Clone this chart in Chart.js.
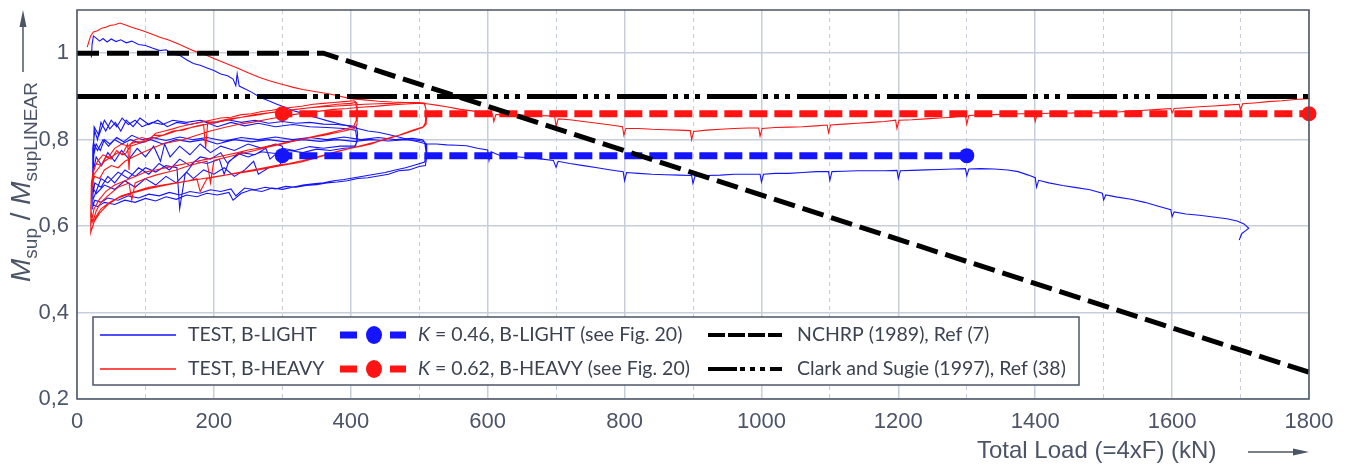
<!DOCTYPE html>
<html>
<head>
<meta charset="utf-8">
<script src="https://cdn.jsdelivr.net/npm/chart.js@4.4.1/dist/chart.umd.min.js"></script>
<style>
  html, body { margin: 0; padding: 0; background: #fff; }
  #wrap { width: 1348px; height: 466px; }
</style>
</head>
<body>
<div id="wrap"><canvas id="chart" width="1348" height="466"></canvas></div>
<script>
// axis ticks
const xTickValues = [0, 100, 200, 300, 400, 500, 600, 700, 800, 900, 1000, 1100, 1200, 1300, 1400, 1500, 1600, 1700, 1800];
const yTickValues = [0.2, 0.4, 0.6, 0.8, 1.0];

// design rules: [load kN, ratio]
const nchrp = [[0, 1.0], [360, 1.0], [1800, 0.262]];
const clarkSugie = [[0, 0.9], [1800, 0.9]];
const kLight = [[300, 0.763], [1300, 0.763]];
const kHeavy = [[300, 0.86], [1800, 0.86]];

// TEST, B-LIGHT: cyclic part
const lightCycles = [
  [22,0.64],[23,0.78],[26,0.82],[30,0.80],[35,0.84],[42,0.82],[50,0.845],[58,0.83],[66,0.85],[75,0.835],[85,0.845],[95,0.83],[110,0.84],[125,0.835],[140,0.845],[160,0.84],[180,0.845],[200,0.838],[220,0.846],[240,0.84],[260,0.845],[280,0.838],[300,0.842],[320,0.838],[340,0.84],[360,0.836],[380,0.835],[400,0.832],[408,0.83],[410,0.815],[409,0.795],[405,0.782],
  [390,0.78],[370,0.775],[350,0.778],[330,0.77],[310,0.775],[290,0.768],[270,0.772],[250,0.76],[235,0.768],[220,0.745],[210,0.77],[195,0.755],[180,0.76],[165,0.74],[150,0.755],[135,0.73],[120,0.745],[105,0.72],[90,0.735],[75,0.71],[60,0.725],[45,0.70],[35,0.71],[28,0.68],[23,0.66],
  [23,0.70],[25,0.83],[32,0.81],[40,0.845],[48,0.825],[56,0.84],[64,0.82],[72,0.845],[82,0.83],[92,0.85],[105,0.835],[118,0.845],[132,0.83],[146,0.84],[165,0.835],[185,0.842],[205,0.83],[225,0.84],[245,0.832],[265,0.838],[290,0.83],[315,0.835],[340,0.83],[365,0.828],[390,0.826],[407,0.822],[409,0.80],[407,0.785],
  [385,0.785],[360,0.78],[340,0.784],[318,0.775],[300,0.78],[282,0.755],[276,0.78],[260,0.765],[240,0.77],[222,0.75],[215,0.72],[208,0.755],[190,0.745],[172,0.75],[158,0.72],[150,0.64],[146,0.735],[130,0.74],[115,0.725],[100,0.735],[85,0.715],[70,0.73],[55,0.70],[45,0.715],[35,0.69],[26,0.70],[23,0.67],
  [23,0.65],[24,0.76],[28,0.79],[34,0.775],[40,0.80],[48,0.79],[58,0.805],[68,0.795],[80,0.81],[95,0.80],[110,0.805],[130,0.798],[150,0.806],[170,0.80],[190,0.805],[215,0.797],[240,0.805],[265,0.80],[290,0.806],[315,0.80],[340,0.805],[365,0.80],[390,0.806],[415,0.80],[440,0.805],[465,0.80],[490,0.803],[505,0.80],[510,0.79],[511,0.76],[509,0.74],
  [500,0.738],[485,0.73],[470,0.728],[455,0.72],[440,0.716],[425,0.712],[410,0.71],[395,0.705],[380,0.702],[365,0.70],[350,0.696],[335,0.694],[320,0.69],[305,0.692],[290,0.686],[275,0.69],[260,0.684],[245,0.688],[232,0.67],[225,0.686],[210,0.68],[195,0.684],[180,0.676],[165,0.68],[150,0.672],[135,0.678],[120,0.67],[105,0.674],[90,0.665],[75,0.67],[60,0.66],[45,0.665],[35,0.655],[26,0.66],[23,0.645],
  [23,0.68],[25,0.79],[30,0.775],[38,0.80],[46,0.785],[55,0.80],[66,0.79],[78,0.80],[92,0.792],[108,0.80],[125,0.79],[145,0.80],[165,0.795],[185,0.80],[205,0.79],[230,0.80],[255,0.795],[280,0.80],[305,0.795],[330,0.80],[355,0.796],[380,0.80],[405,0.796],[430,0.80],[455,0.797],[480,0.80],[500,0.798],[508,0.795],[510,0.77],[508,0.748],
  [495,0.742],[480,0.735],[465,0.73],[450,0.724],[435,0.72],[420,0.716],[405,0.712],[390,0.708],[375,0.705],[360,0.70],[345,0.698],[330,0.695],[315,0.69],[300,0.685],[285,0.688],[270,0.68],[255,0.684],[240,0.676],[228,0.66],[222,0.678],[205,0.672],[190,0.676],[175,0.668],[160,0.672],[145,0.662],[130,0.668],[115,0.658],[100,0.664],[85,0.655],[70,0.66],[55,0.65],[40,0.655],[30,0.645],[23,0.65],
  [23,0.72],[28,0.76],[36,0.74],[45,0.77],[55,0.75],[65,0.775],[76,0.755],[88,0.78],[100,0.76],[112,0.785],[122,0.75],[128,0.79],[136,0.76],[150,0.785],[165,0.765],[180,0.79],[195,0.77],[210,0.785],[230,0.775],[250,0.79],[270,0.78],[290,0.79],[300,0.785],[302,0.76],[296,0.74],
  [280,0.735],[265,0.72],[258,0.75],[245,0.73],[230,0.715],[215,0.735],[200,0.72],[185,0.73],[170,0.71],[160,0.725],[145,0.70],[130,0.715],[115,0.695],[100,0.71],[85,0.69],[70,0.705],[55,0.685],[40,0.695],[28,0.675],[23,0.69]
];

// TEST, B-LIGHT: final loading
const lightFinal = [
  [21,0.99],[22,1.02],[24,1.04],[28,1.035],[33,1.028],[38,1.034],[44,1.026],[50,1.033],[57,1.027],[64,1.031],[72,1.024],[80,1.028],[90,1.02],[100,1.018],[110,1.012],[121,1.006],[130,1.008],[140,0.998],[150,0.995],[160,0.985],[170,0.976],[180,0.972],[190,0.966],[200,0.96],[210,0.952],[220,0.948],[228,0.94],[232,0.925],[234,0.952],[237,0.924],[245,0.918],[255,0.91],[267,0.898],[280,0.89],[292,0.882],[304,0.875],[316,0.867],[328,0.862],[340,0.855],[352,0.85],[365,0.844],[380,0.838],[395,0.832],[410,0.826],[425,0.82],[440,0.817],[455,0.812],[470,0.806],[485,0.80],[498,0.795],[511,0.79],[525,0.79],[540,0.788],[555,0.787],[569,0.786],[585,0.78],[600,0.776],[602,0.752],[605,0.772],[617,0.764],[630,0.762],[645,0.76],[661,0.758],[680,0.755],[696,0.752],[700,0.736],[703,0.75],[720,0.745],[740,0.74],[760,0.735],[780,0.73],[798,0.726],[800,0.705],[803,0.724],[820,0.722],[840,0.72],[860,0.719],[880,0.718],[898,0.717],[900,0.698],[903,0.716],[920,0.717],[940,0.718],[960,0.72],[980,0.72],[998,0.72],[1000,0.702],[1003,0.72],[1020,0.722],[1040,0.722],[1060,0.724],[1080,0.726],[1098,0.726],[1100,0.706],[1103,0.726],[1120,0.727],[1140,0.728],[1160,0.728],[1180,0.728],[1198,0.729],[1200,0.71],[1203,0.728],[1220,0.729],[1240,0.73],[1260,0.731],[1280,0.732],[1298,0.733],[1300,0.716],[1303,0.732],[1320,0.733],[1340,0.732],[1360,0.73],[1375,0.726],[1390,0.718],[1400,0.712],[1402,0.69],[1405,0.706],[1420,0.70],[1440,0.694],[1460,0.689],[1480,0.684],[1498,0.676],[1500,0.66],[1503,0.672],[1520,0.667],[1540,0.662],[1560,0.655],[1580,0.646],[1598,0.638],[1600,0.622],[1603,0.633],[1620,0.628],[1640,0.625],[1660,0.621],[1680,0.617],[1695,0.612],[1705,0.605],[1712,0.595],[1708,0.59],[1702,0.583],[1698,0.568]
];

// TEST, B-HEAVY: cyclic part
const heavyCycles = [
  [20,0.62],[21,0.70],[24,0.73],[30,0.75],[38,0.765],[46,0.76],[55,0.78],[65,0.79],[75,0.785],[85,0.80],[95,0.805],[105,0.80],[115,0.815],[128,0.82],[140,0.825],[150,0.83],[165,0.835],[180,0.84],[195,0.845],[210,0.85],[225,0.852],[240,0.858],[255,0.86],[270,0.865],[285,0.868],[300,0.872],[315,0.875],[330,0.878],[345,0.882],[360,0.884],[375,0.886],[390,0.888],[405,0.89],[409,0.885],[410,0.86],[409,0.835],
  [405,0.826],[390,0.82],[375,0.815],[360,0.81],[345,0.806],[325,0.80],[310,0.795],[295,0.79],[280,0.785],[265,0.78],[250,0.776],[235,0.77],[220,0.765],[205,0.76],[190,0.755],[175,0.75],[160,0.745],[145,0.74],[130,0.735],[115,0.73],[100,0.725],[85,0.715],[70,0.705],[55,0.695],[42,0.68],[32,0.66],[25,0.64],[21,0.61],
  [20,0.60],[21,0.68],[25,0.72],[32,0.735],[40,0.75],[50,0.76],[60,0.77],[70,0.765],[78,0.785],[88,0.79],[100,0.80],[115,0.805],[130,0.812],[145,0.82],[160,0.826],[180,0.832],[200,0.84],[220,0.845],[240,0.852],[260,0.856],[280,0.862],[300,0.866],[320,0.87],[340,0.874],[360,0.876],[380,0.878],[400,0.88],[420,0.882],[440,0.883],[460,0.884],[480,0.886],[500,0.886],[508,0.884],[511,0.86],[510,0.835],
  [505,0.828],[490,0.82],[475,0.812],[460,0.806],[447,0.80],[430,0.79],[415,0.785],[400,0.78],[385,0.775],[374,0.77],[360,0.763],[345,0.756],[325,0.747],[305,0.742],[285,0.736],[265,0.73],[245,0.725],[225,0.72],[205,0.715],[185,0.71],[165,0.705],[145,0.70],[125,0.695],[105,0.69],[85,0.68],[65,0.67],[48,0.655],[35,0.64],[27,0.62],[22,0.595],[20,0.585],
  [21,0.66],[23,0.72],[28,0.745],[35,0.74],[42,0.76],[50,0.755],[58,0.775],[66,0.765],[74,0.79],[76,0.73],[78,0.79],[88,0.795],[100,0.795],[112,0.81],[125,0.81],[140,0.82],[155,0.822],[170,0.83],[185,0.835],[188,0.78],[191,0.84],[205,0.842],[220,0.848],[240,0.852],[260,0.858],[280,0.862],[300,0.866],[320,0.87],[340,0.874],[360,0.878],[380,0.882],[400,0.884],[407,0.886],[409,0.87],[408,0.845],
  [404,0.83],[385,0.822],[365,0.814],[345,0.807],[325,0.80],[300,0.79],[280,0.783],[260,0.775],[240,0.768],[220,0.76],[200,0.752],[195,0.70],[190,0.75],[175,0.745],[160,0.738],[145,0.73],[130,0.724],[115,0.718],[100,0.71],[85,0.70],[80,0.66],[76,0.70],[60,0.69],[45,0.67],[35,0.655],[28,0.635],[23,0.61],
  [20,0.64],[22,0.70],[26,0.715],[33,0.71],[40,0.73],[50,0.74],[60,0.735],[70,0.75],[82,0.76],[95,0.77],[110,0.78],[125,0.79],[140,0.795],[155,0.80],[175,0.81],[195,0.82],[215,0.828],[235,0.835],[255,0.84],[275,0.846],[295,0.852],[315,0.858],[335,0.862],[355,0.866],[375,0.87],[395,0.872],[415,0.875],[435,0.877],[455,0.88],[475,0.882],[495,0.884],[507,0.885],[510,0.87],[509,0.84],
  [506,0.83],[490,0.822],[470,0.81],[450,0.80],[430,0.792],[410,0.784],[390,0.776],[370,0.768],[350,0.76],[330,0.752],[310,0.745],[290,0.74],[270,0.734],[250,0.728],[230,0.722],[210,0.716],[190,0.71],[180,0.68],[175,0.71],[160,0.704],[140,0.698],[120,0.692],[100,0.685],[80,0.676],[60,0.665],[45,0.65],[33,0.63],[25,0.61],[21,0.59],[20,0.60]
];

// TEST, B-HEAVY: final loading
const heavyFinal = [
  [15,1.014],[17,1.025],[20,1.04],[24,1.049],[30,1.052],[36,1.058],[42,1.06],[48,1.064],[55,1.066],[63,1.07],[70,1.066],[80,1.06],[88,1.056],[96,1.052],[108,1.045],[121,1.037],[135,1.03],[150,1.02],[170,1.006],[185,0.998],[200,0.988],[218,0.976],[235,0.965],[250,0.955],[267,0.944],[280,0.937],[295,0.93],[305,0.926],[316,0.921],[330,0.916],[345,0.912],[365,0.907],[380,0.902],[399,0.895],[420,0.892],[440,0.889],[460,0.887],[480,0.886],[500,0.884],[511,0.883],[525,0.88],[540,0.876],[560,0.87],[580,0.866],[595,0.862],[607,0.86],[609,0.842],[612,0.858],[630,0.858],[650,0.857],[670,0.856],[690,0.855],[698,0.853],[700,0.83],[703,0.848],[720,0.846],[740,0.842],[760,0.838],[780,0.834],[797,0.83],[799,0.81],[802,0.826],[820,0.826],[840,0.824],[860,0.823],[880,0.822],[896,0.821],[898,0.80],[901,0.819],[920,0.822],[940,0.824],[960,0.826],[980,0.827],[996,0.827],[998,0.808],[1001,0.826],[1020,0.828],[1040,0.829],[1060,0.83],[1080,0.832],[1096,0.834],[1098,0.816],[1101,0.834],[1120,0.836],[1140,0.838],[1160,0.84],[1180,0.842],[1196,0.845],[1198,0.826],[1201,0.845],[1220,0.846],[1240,0.848],[1260,0.85],[1280,0.852],[1298,0.856],[1300,0.836],[1303,0.856],[1320,0.857],[1340,0.858],[1360,0.859],[1380,0.86],[1398,0.86],[1400,0.842],[1403,0.86],[1420,0.861],[1440,0.861],[1460,0.862],[1480,0.862],[1500,0.862],[1520,0.864],[1540,0.866],[1560,0.868],[1580,0.87],[1598,0.872],[1600,0.862],[1603,0.872],[1620,0.874],[1640,0.876],[1660,0.878],[1680,0.88],[1698,0.882],[1700,0.868],[1703,0.883],[1720,0.885],[1740,0.888],[1760,0.89],[1780,0.893],[1800,0.895]
];

const BLUE = "rgb(20,20,255)";
const RED = "rgb(255,20,20)";
const INK = "#4b5567";
const GRID = "#c6cedb";
const pts = (arr) => arr.map(([x, y]) => ({ x, y }));

function testSet(data, color) {
  return { data: pts(data), borderColor: color, borderWidth: 1.1, pointRadius: 0, showLine: true, tension: 0 };
}

// frame, axis titles, boxed legend
const decor = {
  id: "decor",
  afterDraw(chart) {
    const c = chart.ctx;
    const a = chart.chartArea;
    c.save();
    c.strokeStyle = INK;
    c.lineWidth = 1.5;
    c.strokeRect(a.left, a.top, a.right - a.left, a.bottom - a.top);

    // x title + arrow
    c.fillStyle = INK;
    c.font = "24px 'Liberation Sans', Arial, sans-serif";
    c.textBaseline = "middle";
    c.textAlign = "left";
    c.fillText("Total Load (=4xF) (kN)", 977, 451);
    c.lineWidth = 1.5;
    c.beginPath(); c.moveTo(1248, 452); c.lineTo(1296, 452); c.stroke();
    c.beginPath(); c.moveTo(1309, 452); c.lineTo(1293, 448.5); c.lineTo(1293, 455.5); c.closePath(); c.fill();

    // y title (rotated, with subscripts) + arrow
    c.save();
    c.translate(30, 282);
    c.rotate(-Math.PI / 2);
    c.textBaseline = "alphabetic";
    let px = 0;
    const part = (txt, font, dy) => {
      c.font = font;
      c.fillText(txt, px, dy);
      px += c.measureText(txt).width;
    };
    const big = "italic 28px 'Liberation Sans', Arial, sans-serif";
    const big2 = "28px 'Liberation Sans', Arial, sans-serif";
    const sub = "19px 'Liberation Sans', Arial, sans-serif";
    part("M", big, 0);
    part("sup", sub, 7);
    part(" / ", big2, 0);
    part("M", big, 0);
    part("supLINEAR", sub, 7);
    c.restore();
    c.beginPath(); c.moveTo(23, 72); c.lineTo(23, 24); c.stroke();
    c.beginPath(); c.moveTo(23, 10); c.lineTo(19.5, 27); c.lineTo(26.5, 27); c.closePath(); c.fill();

    // legend box
    const L = 93, T = 317, W = 986, H = 68;
    c.fillStyle = "#fff";
    c.fillRect(L, T, W, H);
    c.strokeStyle = INK;
    c.lineWidth = 1.5;
    c.strokeRect(L, T, W, H);
    const r1 = 335, r2 = 369;
    c.lineCap = "butt";
    // col 1
    c.lineWidth = 1.3;
    c.strokeStyle = BLUE; c.beginPath(); c.moveTo(100, r1); c.lineTo(176, r1); c.stroke();
    c.strokeStyle = RED; c.beginPath(); c.moveTo(100, r2); c.lineTo(176, r2); c.stroke();
    // col 2
    [[r1, BLUE], [r2, RED]].forEach(([y, col]) => {
      c.fillStyle = col;
      c.fillRect(340, y - 3.5, 17, 7);
      c.fillRect(390, y - 3.5, 16, 7);
      c.beginPath(); c.ellipse(374, y, 8, 9, 0, 0, Math.PI * 2); c.fill();
    });
    // col 3
    c.strokeStyle = "#000";
    c.lineWidth = 4;
    c.setLineDash([17, 3]);
    c.beginPath(); c.moveTo(708, r1); c.lineTo(782, r1); c.stroke();
    c.setLineDash([29, 3, 5, 5, 5, 5, 5, 5, 12]);
    c.beginPath(); c.moveTo(708, r2); c.lineTo(782, r2); c.stroke();
    c.setLineDash([]);

    // legend texts
    c.fillStyle = "#3b4352";
    c.textBaseline = "middle";
    const lf = "19.5px Lato, 'Open Sans', sans-serif";
    const lfi = "italic 19.5px Lato, 'Open Sans', sans-serif";
    c.font = lf;
    c.fillText("TEST, B-LIGHT", 188, r1);
    c.fillText("TEST, B-HEAVY", 188, r2);
    c.fillText("NCHRP (1989), Ref (7)", 797, r1);
    c.fillText("Clark and Sugie (1997), Ref (38)", 797, r2);
    [[r1, " = 0.46, B-LIGHT (see Fig. 20)"], [r2, " = 0.62, B-HEAVY (see Fig. 20)"]].forEach(([y, t]) => {
      c.font = lfi;
      c.fillText("K", 418, y);
      const w = c.measureText("K").width;
      c.font = lf;
      c.fillText(t, 418 + w, y);
    });
    c.restore();
  },
};

const minor = (v) => Math.round(v) % 200 !== 0;

new Chart(document.getElementById("chart"), {
  type: "scatter",
  data: {
    datasets: [
      { data: pts(clarkSugie), borderColor: "#000", borderWidth: 5, borderDash: [50, 6, 5, 6, 5, 6, 5, 7], pointRadius: 0, showLine: true },
      { data: pts(nchrp), borderColor: "#000", borderWidth: 5, borderDash: [22, 8], pointRadius: 0, showLine: true },
      { data: pts(kHeavy), borderColor: RED, backgroundColor: RED, borderWidth: 7, borderDash: [18, 7], borderDashOffset: 8,
        pointRadius: 7.5, pointBackgroundColor: RED, pointBorderWidth: 0, showLine: true, clip: false },
      { data: pts(kLight), borderColor: BLUE, backgroundColor: BLUE, borderWidth: 7, borderDash: [18, 7], borderDashOffset: 8,
        pointRadius: 7.5, pointBackgroundColor: BLUE, pointBorderWidth: 0, showLine: true, clip: false },
      testSet(heavyFinal, RED),
      testSet(heavyCycles, RED),
      testSet(lightFinal, BLUE),
      testSet(lightCycles, BLUE),
    ],
  },
  options: {
    responsive: false,
    animation: false,
    devicePixelRatio: 1,
    layout: { autoPadding: false, padding: { top: 10, right: 39, left: 0, bottom: 0 } },
    plugins: { legend: { display: false }, tooltip: { enabled: false } },
    scales: {
      x: {
        type: "linear",
        min: 0,
        max: 1800,
        afterFit: (s) => { s.height = 67; s.paddingLeft = 0; s.paddingRight = 0; },
        afterBuildTicks: (s) => { s.ticks = xTickValues.map((v) => ({ value: v })); },
        ticks: {
          padding: 10,
          color: INK,
          font: { family: "'Liberation Sans', Arial, sans-serif", size: 22 },
          maxRotation: 0,
          autoSkip: false,
          callback: (v) => (minor(v) ? "" : String(v)),
        },
        grid: {
          drawTicks: false,
          color: GRID,
          lineWidth: (ctx) => (ctx.tick && minor(ctx.tick.value) ? 1 : 1.5),
        },
        border: { display: false, dash: (ctx) => (ctx.tick && minor(ctx.tick.value) ? [4, 4] : []) },
      },
      y: {
        type: "linear",
        min: 0.2,
        max: 1.1,
        afterFit: (s) => { s.width = 77; s.paddingTop = 0; s.paddingBottom = 0; },
        afterBuildTicks: (s) => { s.ticks = yTickValues.map((v) => ({ value: v })); },
        ticks: {
          padding: 8,
          color: INK,
          font: { family: "'Liberation Sans', Arial, sans-serif", size: 22 },
          callback: (v) => (Math.abs(v - 1) < 1e-9 ? "1" : v.toFixed(1).replace(".", ",")),
        },
        grid: { drawTicks: false, color: GRID, lineWidth: 1.5 },
        border: { display: false },
      },
    },
  },
  plugins: [decor],
});
</script>
</body>
</html>
